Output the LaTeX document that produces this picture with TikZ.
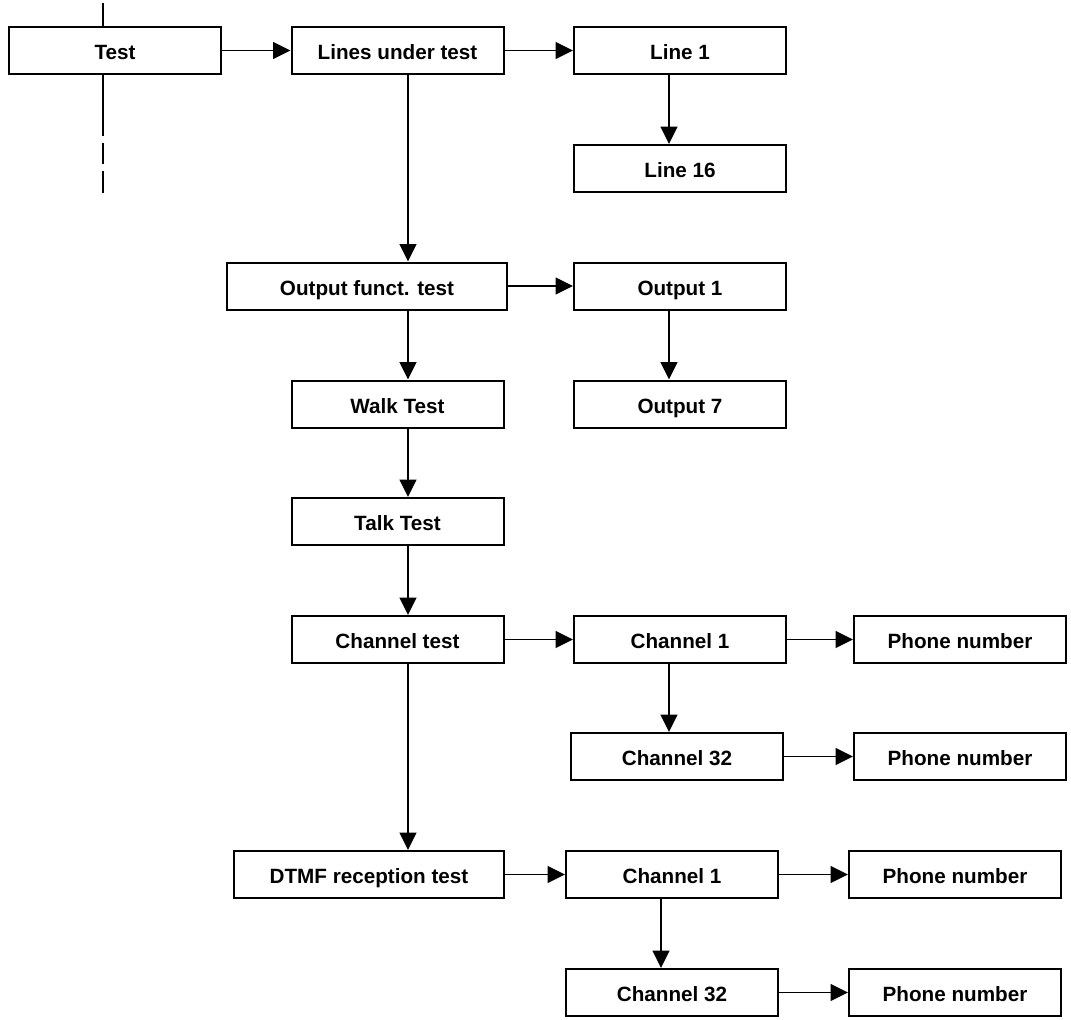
\documentclass[tikz,border=0pt]{standalone}
\usepackage{fontspec}
\setmainfont{Liberation Sans}
\usetikzlibrary{arrows.meta,positioning}

\begin{document}
\begin{tikzpicture}[
    x=0.75pt, y=-0.75pt,
    font=\fontsize{15.5}{18}\selectfont\bfseries,
    % menu entries
    item/.style={draw, line width=1.5pt, inner sep=0pt, align=center,
                 text height=13.8pt, text depth=0pt,
                 minimum width=159pt, minimum height=35.25pt},
    wideitem/.style={item, minimum width=210pt},
    dtmfitem/.style={item, minimum width=202.5pt},
    arr/.style={-{Triangle[length=13pt, width=12.5pt]}, line width=1.4pt},
    stem/.style={line width=1.4pt}
  ]
  \useasboundingbox (0,0) rectangle (1071,1020);

  % ===================== main column =====================
  \node[item]     (test)  at (115,50.5)   {Test};
  \node[item]     (lines) at (397.5,50.5) {Lines under test};
  \node[wideitem] (outfn) at (367,286)    {Output funct. test};
  \node[item]     (walk)  at (397.5,404)  {Walk Test};
  \node[item]     (talk)  at (397.5,521.5){Talk Test};
  \node[item]     (chan)  at (397.5,639.5){Channel test};
  \node[dtmfitem] (dtmf)  at (369,874.5)  {DTMF reception test};

  % ===================== sub entries =====================
  \node[item] (line1)  at (680,50.5)  {Line 1};
  \node[item] (line16) at (680,168.5) {Line 16};
  \node[item] (out1)   at (680,286)   {Output 1};
  \node[item] (out7)   at (680,404)   {Output 7};
  \node[item] (ch1)    at (680,639.5) {Channel 1};
  \node[item] (ch32)   at (677,756.5) {Channel 32};
  \node[item] (dch1)   at (672,874.5) {Channel 1};
  \node[item] (dch32)  at (672,992.5) {Channel 32};

  \node[item] (ph1)  at (960,639.5) {Phone number};
  \node[item] (ph2)  at (960,756.5) {Phone number};
  \node[item] (dph1) at (955,874.5) {Phone number};
  \node[item] (dph2) at (955,992.5) {Phone number};

  % vertical connector columns
  \coordinate (stemx)  at (103,0);
  \coordinate (mainx)  at (408,0);
  \coordinate (rightx) at (669,0);
  \coordinate (dtmfx)  at (661,0);
  \coordinate (ttop)   at (103,3);
  \coordinate (tend)   at (103,193);

  % line through the Test entry (continues dashed below)
  \draw[stem] (ttop) -- (test.north -| stemx);
  \draw[stem, dash pattern=on 45.75pt off 5.25pt on 15.75pt off 5.25pt on 20pt]
    (test.south -| stemx) -- (tend);

  % horizontal arrows
  \draw[arr] (test.east)  -- (lines.west);
  \draw[arr] (lines.east) -- (line1.west);
  \draw[arr] (outfn.east) -- (out1.west);
  \draw[arr] (chan.east)  -- (ch1.west);
  \draw[arr] (ch1.east)   -- (ph1.west);
  \draw[arr] (ch32.east)  -- (ph2.west);
  \draw[arr] (dtmf.east)  -- (dch1.west);
  \draw[arr] (dch1.east)  -- (dph1.west);
  \draw[arr] (dch32.east) -- (dph2.west);

  % vertical arrows, main column
  \draw[arr] (lines.south -| mainx) -- (outfn.north -| mainx);
  \draw[arr] (outfn.south -| mainx) -- (walk.north -| mainx);
  \draw[arr] (walk.south -| mainx)  -- (talk.north -| mainx);
  \draw[arr] (talk.south -| mainx)  -- (chan.north -| mainx);
  \draw[arr] (chan.south -| mainx)  -- (dtmf.north -| mainx);

  % vertical arrows, sub entries
  \draw[arr] (line1.south -| rightx) -- (line16.north -| rightx);
  \draw[arr] (out1.south -| rightx)  -- (out7.north -| rightx);
  \draw[arr] (ch1.south -| rightx)   -- (ch32.north -| rightx);
  \draw[arr] (dch1.south -| dtmfx)   -- (dch32.north -| dtmfx);

\end{tikzpicture}
\end{document}
